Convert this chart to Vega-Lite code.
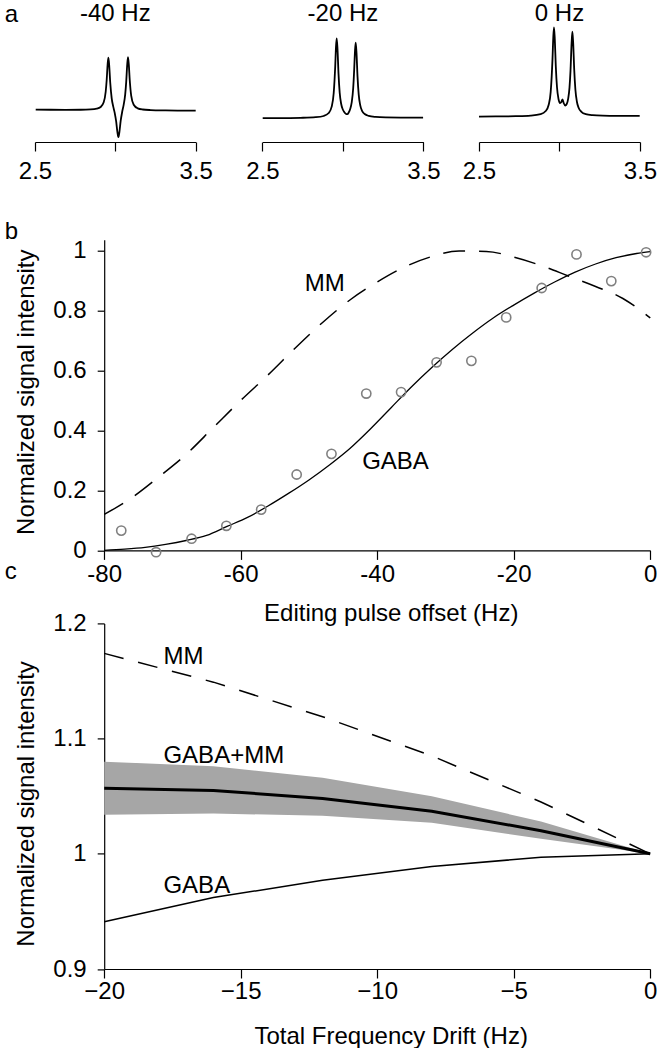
{
"$schema": "https://vega.github.io/schema/vega-lite/v6.json",
"background": "white",
"padding": {"left": 4, "top": 1, "right": 0, "bottom": 0},
"bounds": "flush",
"align": "each",
"spacing": 72.7,
"config": {
  "font": "Liberation Sans",
  "view": {"stroke": null},
  "axis": {"grid": false, "domainColor": "black", "tickColor": "black", "labelColor": "black", "titleColor": "black", "labelFont": "Liberation Sans", "titleFont": "Liberation Sans", "labelFontSize": 24, "titleFontSize": 24, "titleFontWeight": "normal", "domainWidth": 1.2, "tickWidth": 1.2},
  "text": {"font": "Liberation Sans", "fontSize": 24}
},
"datasets": {
  "s40": [
    {"ppm": 2.5044, "amp": 32.4}, {"ppm": 2.5977, "amp": 32.26}, {"ppm": 2.6910, "amp": 32.22}, {"ppm": 2.7844, "amp": 32.26},
    {"ppm": 2.8466, "amp": 32.57}, {"ppm": 2.8839, "amp": 33.31}, {"ppm": 2.9088, "amp": 35.04}, {"ppm": 2.9275, "amp": 39.68},
    {"ppm": 2.9399, "amp": 50.25}, {"ppm": 2.9462, "amp": 62.25}, {"ppm": 2.9524, "amp": 78.67}, {"ppm": 2.9567, "amp": 84.33},
    {"ppm": 2.9617, "amp": 76.73}, {"ppm": 2.9680, "amp": 59.76}, {"ppm": 2.9773, "amp": 43.73}, {"ppm": 2.9866, "amp": 35.58},
    {"ppm": 2.9960, "amp": 29.18}, {"ppm": 3.0053, "amp": 20.27}, {"ppm": 3.0128, "amp": 9.86}, {"ppm": 3.0190, "amp": 4.81},
    {"ppm": 3.0252, "amp": 9.96}, {"ppm": 3.0333, "amp": 21.3}, {"ppm": 3.0426, "amp": 30.23}, {"ppm": 3.0520, "amp": 37.37},
    {"ppm": 3.0613, "amp": 47.63}, {"ppm": 3.0675, "amp": 59.87}, {"ppm": 3.0737, "amp": 77.15}, {"ppm": 3.0787, "amp": 84.9},
    {"ppm": 3.0837, "amp": 77.56}, {"ppm": 3.0893, "amp": 62.47}, {"ppm": 3.0986, "amp": 46.39}, {"ppm": 3.1142, "amp": 37.28},
    {"ppm": 3.1391, "amp": 33.67}, {"ppm": 3.1702, "amp": 32.51}, {"ppm": 3.2200, "amp": 31.95}, {"ppm": 3.3133, "amp": 31.6},
    {"ppm": 3.4067, "amp": 31.45}, {"ppm": 3.5000, "amp": 31.35}
  ],
  "s20": [
    {"ppm": 2.5019, "amp": 23.79}, {"ppm": 2.6137, "amp": 23.92}, {"ppm": 2.7379, "amp": 24.18}, {"ppm": 2.8311, "amp": 24.78},
    {"ppm": 2.8808, "amp": 26.01}, {"ppm": 2.9118, "amp": 28.96}, {"ppm": 2.9304, "amp": 35.35}, {"ppm": 2.9429, "amp": 48.96},
    {"ppm": 2.9522, "amp": 75.2}, {"ppm": 2.9571, "amp": 95.15}, {"ppm": 2.9615, "amp": 103.7}, {"ppm": 2.9665, "amp": 92.9},
    {"ppm": 2.9727, "amp": 68.4}, {"ppm": 2.9801, "amp": 49.2}, {"ppm": 2.9894, "amp": 38.0}, {"ppm": 2.9988, "amp": 32.8},
    {"ppm": 3.0081, "amp": 30.02}, {"ppm": 3.0174, "amp": 28.27}, {"ppm": 3.0280, "amp": 27.85}, {"ppm": 3.0360, "amp": 29.47},
    {"ppm": 3.0453, "amp": 33.06}, {"ppm": 3.0547, "amp": 39.57}, {"ppm": 3.0640, "amp": 53.98}, {"ppm": 3.0702, "amp": 72.81},
    {"ppm": 3.0752, "amp": 91.3}, {"ppm": 3.0795, "amp": 99.4}, {"ppm": 3.0845, "amp": 89.1}, {"ppm": 3.0907, "amp": 65.9},
    {"ppm": 3.0981, "amp": 47.6}, {"ppm": 3.1075, "amp": 36.9}, {"ppm": 3.1199, "amp": 30.99}, {"ppm": 3.1354, "amp": 27.97},
    {"ppm": 3.1602, "amp": 26.11}, {"ppm": 3.2037, "amp": 25.1}, {"ppm": 3.2658, "amp": 24.63}, {"ppm": 3.3590, "amp": 24.46},
    {"ppm": 3.4981, "amp": 24.42}
  ],
  "s0": [
    {"ppm": 2.5000, "amp": 25.4}, {"ppm": 2.6037, "amp": 25.54}, {"ppm": 2.7280, "amp": 25.8}, {"ppm": 2.8211, "amp": 26.39},
    {"ppm": 2.8832, "amp": 27.88}, {"ppm": 2.9143, "amp": 30.95}, {"ppm": 2.9329, "amp": 37.27}, {"ppm": 2.9453, "amp": 50.09},
    {"ppm": 2.9565, "amp": 82.86}, {"ppm": 2.9615, "amp": 105.0}, {"ppm": 2.9658, "amp": 114.69}, {"ppm": 2.9708, "amp": 102.7},
    {"ppm": 2.9770, "amp": 75.75}, {"ppm": 2.9845, "amp": 54.71}, {"ppm": 2.9938, "amp": 42.97}, {"ppm": 3.0031, "amp": 38.95},
    {"ppm": 3.0112, "amp": 39.95}, {"ppm": 3.0186, "amp": 42.55}, {"ppm": 3.0261, "amp": 38.94}, {"ppm": 3.0354, "amp": 36.49},
    {"ppm": 3.0447, "amp": 38.0}, {"ppm": 3.0540, "amp": 43.42}, {"ppm": 3.0621, "amp": 54.4}, {"ppm": 3.0683, "amp": 71.16},
    {"ppm": 3.0752, "amp": 98.97}, {"ppm": 3.0801, "amp": 110.3}, {"ppm": 3.0851, "amp": 98.72}, {"ppm": 3.0913, "amp": 72.76},
    {"ppm": 3.0988, "amp": 52.29}, {"ppm": 3.1081, "amp": 40.25}, {"ppm": 3.1193, "amp": 34.04}, {"ppm": 3.1379, "amp": 29.96},
    {"ppm": 3.1627, "amp": 27.97}, {"ppm": 3.2062, "amp": 26.86}, {"ppm": 3.2683, "amp": 26.36}, {"ppm": 3.3615, "amp": 26.17},
    {"ppm": 3.4981, "amp": 26.13}
  ],
  "bG": [
    {"x": -80, "y": 0.0}, {"x": -77, "y": 0.004}, {"x": -74, "y": 0.01}, {"x": -71, "y": 0.02}, {"x": -68, "y": 0.033},
    {"x": -65, "y": 0.05}, {"x": -62, "y": 0.08}, {"x": -59, "y": 0.11}, {"x": -56, "y": 0.148}, {"x": -53, "y": 0.19},
    {"x": -50, "y": 0.235}, {"x": -47, "y": 0.285}, {"x": -44, "y": 0.34}, {"x": -41, "y": 0.405}, {"x": -38, "y": 0.475},
    {"x": -35, "y": 0.545}, {"x": -32, "y": 0.61}, {"x": -29, "y": 0.67}, {"x": -26, "y": 0.725}, {"x": -23, "y": 0.775},
    {"x": -20, "y": 0.818}, {"x": -17, "y": 0.858}, {"x": -14, "y": 0.895}, {"x": -11, "y": 0.928}, {"x": -8, "y": 0.955},
    {"x": -5, "y": 0.976}, {"x": -2, "y": 0.99}, {"x": 0, "y": 0.996}
  ],
  "bM": [
    {"x": -80, "y": 0.12}, {"x": -76, "y": 0.175}, {"x": -72, "y": 0.245}, {"x": -68, "y": 0.32}, {"x": -64, "y": 0.41},
    {"x": -60, "y": 0.5}, {"x": -56, "y": 0.585}, {"x": -52, "y": 0.675}, {"x": -48, "y": 0.76}, {"x": -44, "y": 0.835},
    {"x": -40, "y": 0.895}, {"x": -36, "y": 0.945}, {"x": -32, "y": 0.98}, {"x": -28, "y": 0.998}, {"x": -24, "y": 0.997},
    {"x": -20, "y": 0.978}, {"x": -16, "y": 0.95}, {"x": -12, "y": 0.915}, {"x": -8, "y": 0.88}, {"x": -4, "y": 0.84},
    {"x": -2, "y": 0.81}, {"x": 0, "y": 0.775}
  ],
  "bP": [
    {"x": -77.5, "y": 0.066}, {"x": -72.4, "y": -0.006}, {"x": -67.2, "y": 0.039}, {"x": -62.1, "y": 0.082},
    {"x": -57.0, "y": 0.136}, {"x": -51.8, "y": 0.253}, {"x": -46.7, "y": 0.322}, {"x": -41.6, "y": 0.523},
    {"x": -36.5, "y": 0.528}, {"x": -31.3, "y": 0.627}, {"x": -26.2, "y": 0.632}, {"x": -21.1, "y": 0.777},
    {"x": -15.9, "y": 0.875}, {"x": -10.8, "y": 0.987}, {"x": -5.7, "y": 0.898}, {"x": -0.6, "y": 0.994}
  ],
  "bT": [
    {"x": -50.6, "y": 0.866, "t": "MM"}, {"x": -42.2, "y": 0.273, "t": "GABA"}, {"x": -94.58, "y": 1.04, "t": "b"}
  ],
  "cB": [
    {"x": -20, "y": 1.034, "y2": 1.08}, {"x": -16, "y": 1.035, "y2": 1.076}, {"x": -12, "y": 1.033, "y2": 1.066},
    {"x": -8, "y": 1.027, "y2": 1.05}, {"x": -4, "y": 1.013, "y2": 1.028}, {"x": 0, "y": 1.0, "y2": 1.0}
  ],
  "cA": [
    {"x": -20, "y": 1.057}, {"x": -16, "y": 1.055}, {"x": -12, "y": 1.048}, {"x": -8, "y": 1.037}, {"x": -4, "y": 1.02}, {"x": 0, "y": 1.0}
  ],
  "cM": [
    {"x": -20, "y": 1.174}, {"x": -16, "y": 1.149}, {"x": -12, "y": 1.119}, {"x": -8, "y": 1.085}, {"x": -4, "y": 1.045}, {"x": 0, "y": 1.0}
  ],
  "cG": [
    {"x": -20, "y": 0.941}, {"x": -16, "y": 0.962}, {"x": -12, "y": 0.977}, {"x": -8, "y": 0.989}, {"x": -4, "y": 0.997}, {"x": 0, "y": 1.0}
  ],
  "cT": [
    {"x": -17.83, "y": 1.1646, "t": "MM"}, {"x": -17.83, "y": 1.0787, "t": "GABA+MM"}, {"x": -17.83, "y": 0.9657, "t": "GABA"}, {"x": -23.645, "y": 1.2384, "t": "c"}
  ]
},
"vconcat": [
  {
    "width": 605, "height": 146.6,
    "resolve": {"scale": {"x": "independent"}, "axis": {"x": "independent"}},
    "layer": [
      {
        "layer": [
          {"data": {"name": "s40"}, "mark": {"type": "line", "color": "black", "strokeWidth": 1.8, "interpolate": "monotone"},
           "encoding": {
             "x": {"field": "ppm", "type": "quantitative", "scale": {"domain": [2.5, 6.2648], "nice": false, "zero": false},
                   "axis": {"orient": "bottom", "values": [2.5, 3, 3.5], "labelExpr": "datum.value == 3 ? '' : format(datum.value, '.1f')", "offset": -24.6, "tickSize": 9, "labelPadding": 27.6, "labelBaseline": "alphabetic", "title": null, "domainDash": [160.7, 2000], "labelFlush": false, "labelOverlap": false}},
             "y": {"field": "amp", "type": "quantitative", "scale": {"domain": [-24.6, 122], "nice": false, "zero": false}, "axis": null}
           }},
          {"data": {"values": [{}]}, "mark": {"type": "text", "align": "center", "baseline": "alphabetic", "fontSize": 24, "color": "black"},
           "encoding": {
             "x": {"datum": 3.0, "type": "quantitative", "scale": {"domain": [2.5, 6.2648], "nice": false, "zero": false}},
             "y": {"datum": 121, "type": "quantitative", "scale": {"domain": [-24.6, 122], "nice": false, "zero": false}},
             "text": {"value": "-40 Hz"}
           }},
          {"data": {"values": [{}]}, "mark": {"type": "text", "align": "left", "baseline": "alphabetic", "fontSize": 24, "color": "black"},
           "encoding": {
             "x": {"datum": 2.31145, "type": "quantitative", "scale": {"domain": [2.5, 6.2648], "nice": false, "zero": false}},
             "y": {"datum": 120, "type": "quantitative", "scale": {"domain": [-24.6, 122], "nice": false, "zero": false}},
             "text": {"value": "a"}
           }}
        ]
      },
      {
        "layer": [
          {"data": {"name": "s20"}, "mark": {"type": "line", "color": "black", "strokeWidth": 1.8, "interpolate": "monotone"},
           "encoding": {
             "x": {"field": "ppm", "type": "quantitative", "scale": {"domain": [1.08758, 4.84534], "nice": false, "zero": false},
                   "axis": {"orient": "bottom", "values": [2.5, 3, 3.5], "labelExpr": "datum.value == 3 ? '' : format(datum.value, '.1f')", "offset": -24.6, "tickSize": 9, "labelPadding": 27.6, "labelBaseline": "alphabetic", "title": null, "domainDash": [0, 227.4, 161, 2000], "labelFlush": false, "labelOverlap": false}},
             "y": {"field": "amp", "type": "quantitative", "scale": {"domain": [-24.6, 122], "nice": false, "zero": false}, "axis": null}
           }},
          {"data": {"values": [{}]}, "mark": {"type": "text", "align": "center", "baseline": "alphabetic", "fontSize": 24, "color": "black"},
           "encoding": {
             "x": {"datum": 3.0, "type": "quantitative", "scale": {"domain": [1.08758, 4.84534], "nice": false, "zero": false}},
             "y": {"datum": 121, "type": "quantitative", "scale": {"domain": [-24.6, 122], "nice": false, "zero": false}},
             "text": {"value": "-20 Hz"}
           }}
        ]
      },
      {
        "layer": [
          {"data": {"name": "s0"}, "mark": {"type": "line", "color": "black", "strokeWidth": 1.8, "interpolate": "monotone"},
           "encoding": {
             "x": {"field": "ppm", "type": "quantitative", "scale": {"domain": [-0.25776, 3.5], "nice": false, "zero": false},
                   "axis": {"orient": "bottom", "values": [2.5, 3, 3.5], "labelExpr": "datum.value == 3 ? '' : format(datum.value, '.1f')", "offset": -24.6, "tickSize": 9, "labelPadding": 27.6, "labelBaseline": "alphabetic", "title": null, "domainDash": [0, 444, 161, 2000], "labelFlush": false, "labelOverlap": false}},
             "y": {"field": "amp", "type": "quantitative", "scale": {"domain": [-24.6, 122], "nice": false, "zero": false}, "axis": null}
           }},
          {"data": {"values": [{}]}, "mark": {"type": "text", "align": "center", "baseline": "alphabetic", "fontSize": 24, "color": "black"},
           "encoding": {
             "x": {"datum": 3.0, "type": "quantitative", "scale": {"domain": [-0.25776, 3.5], "nice": false, "zero": false}},
             "y": {"datum": 121, "type": "quantitative", "scale": {"domain": [-24.6, 122], "nice": false, "zero": false}},
             "text": {"value": "0 Hz"}
           }}
        ]
      }
    ]
  },
  {
    "width": 615.2, "height": 310.7,
    "encoding": {
      "x": {"field": "x", "type": "quantitative", "scale": {"domain": [-90.139, 0], "nice": false, "zero": false},
            "axis": {"values": [-80, -60, -40, -20, 0], "labelExpr": "datum.value < 0 ? '-' + format(-datum.value, 'd') : format(datum.value, 'd')", "tickSize": 9, "labelPadding": 21.7, "labelBaseline": "alphabetic", "title": "Editing pulse offset (Hz)", "titleX": 355.7, "titleY": 70, "titleBaseline": "alphabetic", "domainDash": [0, 69.2, 2000], "labelFlush": false, "labelOverlap": false}},
      "y": {"field": "y", "type": "quantitative", "scale": {"domain": [0, 1.036], "nice": false, "zero": false},
            "axis": {"values": [0, 0.2, 0.4, 0.6, 0.8, 1], "labelExpr": "format(datum.value, '~g')", "offset": -69.2, "tickSize": 7, "labelPadding": 11, "title": "Normalized signal intensity", "titleX": -70.5, "titleY": 152, "titleBaseline": "alphabetic", "labelFlush": false, "labelOverlap": false}}
    },
    "layer": [
      {"data": {"name": "bG"}, "mark": {"type": "line", "color": "black", "strokeWidth": 1.3, "interpolate": "monotone"}, "encoding": {}},
      {"data": {"name": "bM"}, "mark": {"type": "line", "color": "black", "strokeWidth": 1.5, "strokeDash": [22, 14], "interpolate": "monotone"}, "encoding": {}},
      {"data": {"name": "bP"}, "mark": {"type": "point", "shape": "circle", "filled": false, "color": "#808080", "strokeWidth": 1.6, "size": 85, "opacity": 1}},
      {"data": {"name": "bT"}, "mark": {"type": "text", "align": "left", "baseline": "alphabetic", "fontSize": 24, "color": "black"}, "encoding": {"text": {"field": "t"}}}
    ]
  },
  {
    "width": 615.2, "height": 345.6,
    "encoding": {
      "x": {"field": "x", "type": "quantitative", "scale": {"domain": [-22.535, 0], "nice": false, "zero": false},
            "axis": {"values": [-20, -15, -10, -5, 0], "labelExpr": "datum.value < 0 ? '\u2212' + format(-datum.value, 'd') : format(datum.value, 'd')", "tickSize": 9, "labelPadding": 20, "labelBaseline": "alphabetic", "title": "Total Frequency Drift (Hz)", "titleX": 355.7, "titleY": 74, "titleBaseline": "alphabetic", "domainDash": [0, 69.2, 2000], "labelFlush": false, "labelOverlap": false}},
      "y": {"field": "y", "type": "quantitative", "scale": {"domain": [0.9, 1.2], "nice": false, "zero": false},
            "axis": {"values": [0.9, 1, 1.1, 1.2], "labelExpr": "format(datum.value, '~g')", "offset": -69.2, "tickSize": 7, "labelPadding": 11, "title": "Normalized signal intensity", "titleX": -70.5, "titleY": 180, "titleBaseline": "alphabetic", "labelFlush": false, "labelOverlap": false}}
    },
    "layer": [
      {"data": {"name": "cB"}, "mark": {"type": "area", "color": "#a6a6a6", "opacity": 1}, "encoding": {"y2": {"field": "y2"}}},
      {"data": {"name": "cA"}, "mark": {"type": "line", "color": "black", "strokeWidth": 3}, "encoding": {}},
      {"data": {"name": "cM"}, "mark": {"type": "line", "color": "black", "strokeWidth": 1.5, "strokeDash": [20, 15]}, "encoding": {}},
      {"data": {"name": "cG"}, "mark": {"type": "line", "color": "black", "strokeWidth": 1.5}, "encoding": {}},
      {"data": {"name": "cT"}, "mark": {"type": "text", "align": "left", "baseline": "alphabetic", "fontSize": 24, "color": "black"}, "encoding": {"text": {"field": "t"}}}
    ]
  }
]
}
